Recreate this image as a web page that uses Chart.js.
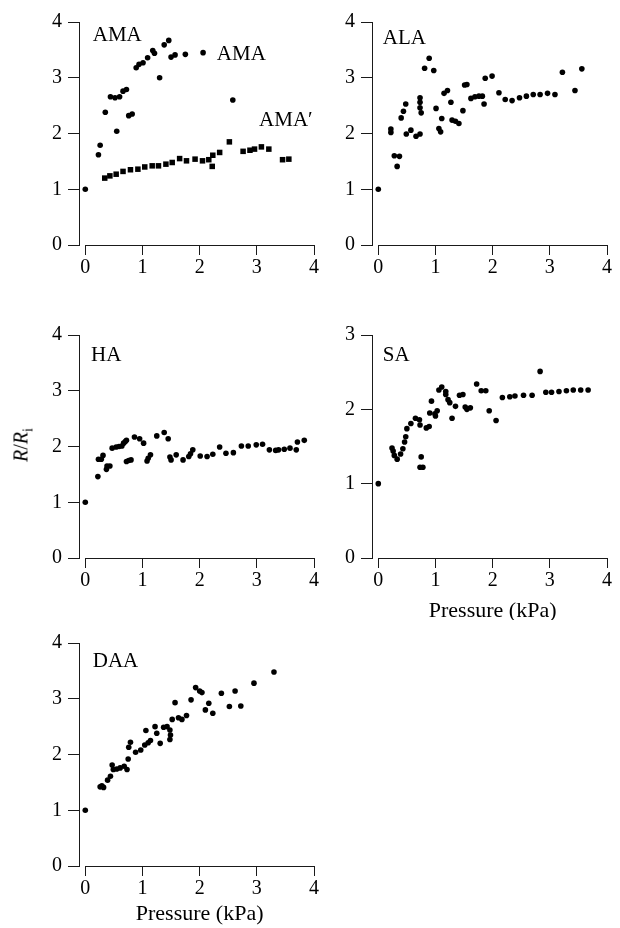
<!DOCTYPE html>
<html lang="en">
<head>
<meta charset="UTF-8">
<title>R/Ri vs pressure</title>
<script src="https://cdn.jsdelivr.net/npm/chart.js"></script>
<style>
    body { margin: 0; background: #fff; width: 620px; height: 928px; position: relative; overflow: hidden; }
    canvas { position: absolute; }
    #ytitle {
        position: absolute; left: 23px; top: 445px;
        transform: translate(-50%, -50%) rotate(-90deg);
        font: 20px "Liberation Serif", serif; white-space: nowrap; color: #000;
    }
    #ytitle sub { font-size: 14px; font-style: normal; }
</style>
</head>
<body>
<canvas id="cAMA"></canvas>
<canvas id="cALA"></canvas>
<canvas id="cHA"></canvas>
<canvas id="cSA"></canvas>
<canvas id="cDAA"></canvas>
<div id="ytitle"><i>R</i>/<i>R</i><sub>i</sub></div>

<script>
// tick values
const xTicks = [0, 1, 2, 3, 4];
const yTicks4 = [0, 1, 2, 3, 4];
const yTicks3 = [0, 1, 2, 3];

// AMA (circles) and AMA' (squares)
const amaP = [0, 0.23, 0.26, 0.35, 0.44, 0.52, 0.60, 0.55, 0.66, 0.72, 0.76, 0.82, 0.89, 0.94, 1.01, 1.09, 1.18, 1.21, 1.30, 1.38, 1.46, 1.50, 1.57, 1.75, 2.06, 2.58];
const amaR = [1.00, 1.62, 1.79, 2.38, 2.66, 2.64, 2.66, 2.04, 2.76, 2.79, 2.32, 2.35, 3.18, 3.24, 3.27, 3.36, 3.49, 3.44, 3.00, 3.59, 3.67, 3.37, 3.41, 3.42, 3.45, 2.60];
const amaQP = [0.34, 0.43, 0.54, 0.66, 0.79, 0.92, 1.04, 1.17, 1.28, 1.41, 1.52, 1.65, 1.77, 1.92, 2.05, 2.16, 2.22, 2.23, 2.35, 2.52, 2.76, 2.88, 2.96, 3.08, 3.21, 3.45, 3.56];
const amaQR = [1.20, 1.24, 1.27, 1.32, 1.35, 1.36, 1.40, 1.42, 1.42, 1.45, 1.48, 1.55, 1.51, 1.54, 1.51, 1.53, 1.41, 1.61, 1.66, 1.85, 1.68, 1.70, 1.72, 1.76, 1.72, 1.53, 1.54];

// ALA
const alaP = [0, 0.22, 0.22, 0.28, 0.33, 0.37, 0.40, 0.44, 0.48, 0.49, 0.57, 0.66, 0.73, 0.73, 0.73, 0.73, 0.75, 0.81, 0.89, 0.97, 1.01, 1.06, 1.09, 1.11, 1.15, 1.21, 1.27, 1.29, 1.35, 1.41, 1.48, 1.51, 1.55, 1.62, 1.69, 1.76, 1.82, 1.85, 1.87, 1.99, 2.11, 2.22, 2.34, 2.47, 2.59, 2.71, 2.83, 2.96, 3.09, 3.22, 3.44, 3.56];
const alaR = [1.00, 2.08, 2.02, 1.60, 1.41, 1.59, 2.28, 2.40, 2.53, 1.99, 2.06, 1.95, 1.99, 2.64, 2.56, 2.46, 2.37, 3.17, 3.35, 3.13, 2.45, 2.09, 2.03, 2.27, 2.72, 2.77, 2.56, 2.24, 2.22, 2.18, 2.41, 2.87, 2.88, 2.63, 2.66, 2.67, 2.67, 2.53, 2.99, 3.03, 2.73, 2.61, 2.59, 2.64, 2.67, 2.70, 2.70, 2.72, 2.70, 3.10, 2.77, 3.16];

// HA
const haP = [0, 0.22, 0.23, 0.28, 0.31, 0.37, 0.38, 0.43, 0.47, 0.54, 0.59, 0.64, 0.67, 0.70, 0.72, 0.72, 0.76, 0.80, 0.86, 0.95, 1.02, 1.08, 1.10, 1.14, 1.25, 1.38, 1.45, 1.48, 1.50, 1.59, 1.71, 1.81, 1.84, 1.88, 2.01, 2.13, 2.23, 2.35, 2.46, 2.59, 2.73, 2.85, 2.99, 3.10, 3.22, 3.33, 3.38, 3.48, 3.58, 3.69, 3.71, 3.83];
const haR = [1.00, 1.46, 1.77, 1.77, 1.84, 1.59, 1.65, 1.65, 1.97, 1.99, 2.00, 2.01, 2.06, 2.09, 2.11, 1.73, 1.75, 1.76, 2.17, 2.14, 2.06, 1.74, 1.79, 1.85, 2.19, 2.25, 2.14, 1.81, 1.76, 1.85, 1.76, 1.82, 1.87, 1.94, 1.83, 1.82, 1.86, 1.99, 1.88, 1.89, 2.01, 2.01, 2.03, 2.04, 1.94, 1.93, 1.94, 1.95, 1.97, 1.94, 2.08, 2.11];

// SA
const saP = [0, 0.24, 0.26, 0.28, 0.33, 0.39, 0.43, 0.46, 0.48, 0.50, 0.57, 0.65, 0.72, 0.73, 0.75, 0.73, 0.78, 0.84, 0.89, 0.90, 0.93, 0.99, 1.03, 1.00, 1.06, 1.11, 1.18, 1.18, 1.22, 1.25, 1.29, 1.35, 1.42, 1.48, 1.52, 1.55, 1.61, 1.72, 1.80, 1.88, 1.94, 2.06, 2.17, 2.30, 2.39, 2.54, 2.69, 2.83, 2.93, 3.03, 3.16, 3.29, 3.41, 3.54, 3.67];
const saR = [1.00, 1.48, 1.44, 1.38, 1.33, 1.40, 1.47, 1.56, 1.63, 1.74, 1.81, 1.88, 1.86, 1.79, 1.36, 1.22, 1.22, 1.75, 1.77, 1.95, 2.11, 1.94, 1.98, 1.91, 2.26, 2.30, 2.24, 2.20, 2.13, 2.09, 1.88, 2.04, 2.19, 2.20, 2.03, 2.00, 2.02, 2.34, 2.25, 2.25, 1.98, 1.85, 2.16, 2.17, 2.18, 2.19, 2.19, 2.51, 2.23, 2.23, 2.24, 2.25, 2.26, 2.26, 2.26];

// DAA
const daaP = [0, 0.26, 0.29, 0.32, 0.39, 0.44, 0.47, 0.49, 0.55, 0.61, 0.68, 0.73, 0.75, 0.76, 0.79, 0.88, 0.97, 1.04, 1.06, 1.10, 1.14, 1.22, 1.25, 1.31, 1.37, 1.43, 1.48, 1.49, 1.48, 1.52, 1.57, 1.63, 1.69, 1.77, 1.85, 1.93, 2.00, 2.04, 2.10, 2.16, 2.23, 2.38, 2.52, 2.62, 2.72, 2.95, 3.30];
const daaR = [1.00, 1.42, 1.44, 1.41, 1.54, 1.61, 1.81, 1.73, 1.74, 1.76, 1.79, 1.73, 1.92, 2.13, 2.22, 2.04, 2.08, 2.17, 2.43, 2.21, 2.25, 2.50, 2.38, 2.20, 2.49, 2.50, 2.27, 2.35, 2.44, 2.63, 2.93, 2.66, 2.63, 2.70, 2.98, 3.20, 3.14, 3.11, 2.80, 2.92, 2.74, 3.10, 2.86, 3.14, 2.87, 3.28, 3.48];

const FONT = '"Liberation Serif", "Times New Roman", serif';
const INK = '#1a1a1a';

function pts(xs, ys) {
    return xs.map((v, i) => ({ x: v, y: ys[i] }));
}

// axis line along x from first to last tick, panel labels and x title
const decor = {
    id: 'decor',
    afterDraw(chart, args, o) {
        const ctx = chart.ctx, sx = chart.scales.x, sy = chart.scales.y;
        const yb = Math.round(sy.getPixelForValue(0)) + 0.5;
        ctx.save();
        ctx.strokeStyle = INK;
        ctx.lineWidth = 1;
        ctx.beginPath();
        ctx.moveTo(Math.round(sx.getPixelForValue(xTicks[0])), yb);
        ctx.lineTo(Math.round(sx.getPixelForValue(xTicks[xTicks.length - 1])) + 1, yb);
        ctx.stroke();
        ctx.fillStyle = '#000';
        ctx.font = '21px ' + FONT;
        ctx.textBaseline = 'middle';
        ctx.textAlign = 'left';
        (o.labels || []).forEach(l => {
            ctx.fillText(l.text, sx.getPixelForValue(l.x), sy.getPixelForValue(l.y));
        });
        if (o.xTitle) {
            ctx.font = '22px ' + FONT;
            ctx.textAlign = 'center';
            const cx = (sx.getPixelForValue(xTicks[0]) + sx.getPixelForValue(xTicks[xTicks.length - 1])) / 2;
            ctx.fillText(o.xTitle, cx, yb + o.xTitleGap);
        }
        ctx.restore();
    }
};

function painel(id, area, yTicks, datasets, labels, xTitle, xTitleGap) {
    const cv = document.getElementById(id);
    const padL = 60, padT = 12, padR = 12, padB = 62;
    const w = area.right - area.left, h = area.bottom - area.top;
    cv.style.left = (area.left - padL) + 'px';
    cv.style.top = (area.top - padT) + 'px';
    cv.width = w + padL + padR;
    cv.height = h + padT + padB;
    cv.style.width = cv.width + 'px';
    cv.style.height = cv.height + 'px';

    return new Chart(cv, {
        type: 'scatter',
        data: { datasets: datasets },
        options: {
            responsive: false,
            animation: false,
            events: [],
            layout: { padding: { top: padT, right: padR, left: 0, bottom: 0 } },
            plugins: {
                legend: { display: false },
                tooltip: { enabled: false },
                decor: { labels: labels, xTitle: xTitle, xTitleGap: xTitleGap }
            },
            scales: {
                x: {
                    type: 'linear',
                    min: -0.11,
                    max: 4,
                    afterBuildTicks: s => { s.ticks = xTicks.map(v => ({ value: v })); },
                    afterFit: s => { s.height = padB; },
                    border: { display: false },
                    grid: { drawOnChartArea: false, drawTicks: true, tickLength: 10, color: INK, lineWidth: 1 },
                    ticks: { color: '#000', font: { family: FONT, size: 20 }, padding: 1, maxRotation: 0 }
                },
                y: {
                    type: 'linear',
                    min: 0,
                    max: yTicks[yTicks.length - 1],
                    afterBuildTicks: s => { s.ticks = yTicks.map(v => ({ value: v })); },
                    afterFit: s => { s.width = padL; },
                    border: { display: true, color: INK, width: 1 },
                    grid: { drawOnChartArea: false, drawTicks: true, tickLength: 11, color: INK, lineWidth: 1 },
                    ticks: { color: '#000', font: { family: FONT, size: 20 }, padding: 6 }
                }
            }
        },
        plugins: [decor]
    });
}

function circulos(xs, ys) {
    return { data: pts(xs, ys), pointStyle: 'circle', pointRadius: 2.8, backgroundColor: '#000', borderWidth: 0, clip: false };
}
function quadrados(xs, ys) {
    return { data: pts(xs, ys), pointStyle: 'rect', pointRadius: 3.9, backgroundColor: '#000', borderWidth: 0, clip: false };
}

const col1 = { left: 79, right: 314 }, col2 = { left: 372, right: 607 };
const row1 = { top: 16, bottom: 245 }, row2 = { top: 329, bottom: 558 }, row3 = { top: 637, bottom: 866 };

painel('cAMA', { ...col1, ...row1 }, yTicks4,
    [circulos(amaP, amaR), quadrados(amaQP, amaQR)],
    [{ text: 'AMA', x: 0.13, y: 3.75 }, { text: 'AMA', x: 2.30, y: 3.41 }, { text: 'AMA\u2032', x: 3.04, y: 2.24 }]);

painel('cALA', { ...col2, ...row1 }, yTicks4,
    [circulos(alaP, alaR)],
    [{ text: 'ALA', x: 0.08, y: 3.70 }]);

painel('cHA', { ...col1, ...row2 }, yTicks4,
    [circulos(haP, haR)],
    [{ text: 'HA', x: 0.10, y: 3.64 }]);

painel('cSA', { ...col2, ...row2 }, yTicks3,
    [circulos(saP, saR)],
    [{ text: 'SA', x: 0.08, y: 2.73 }], 'Pressure (kPa)', 53);

painel('cDAA', { ...col1, ...row3 }, yTicks4,
    [circulos(daaP, daaR)],
    [{ text: 'DAA', x: 0.13, y: 3.66 }], 'Pressure (kPa)', 48);
</script>
</body>
</html>
